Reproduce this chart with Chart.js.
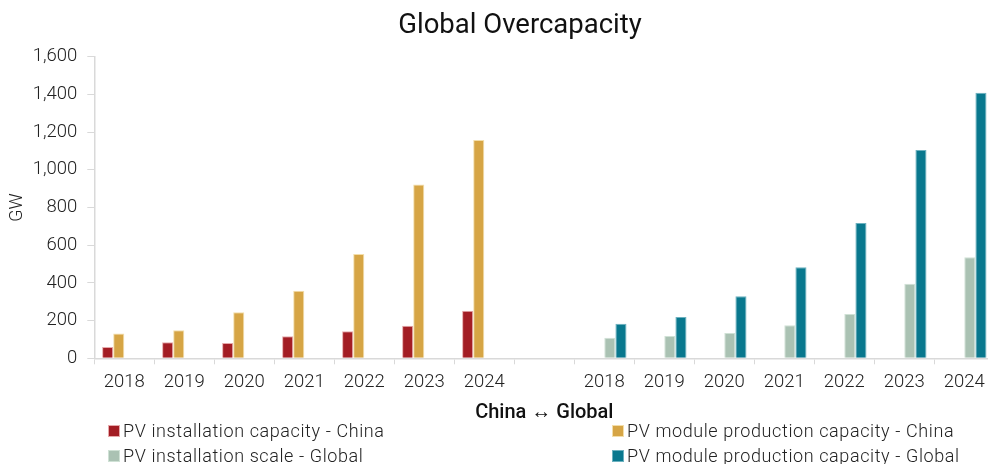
<!DOCTYPE html>
<html>
<head>
<meta charset="utf-8">
<script src="https://cdn.jsdelivr.net/npm/chart.js@4/dist/chart.umd.min.js"></script>
<style>
  html, body { margin: 0; padding: 0; background: #fff; overflow: hidden; }
  #wrap { position: relative; width: 1040px; height: 464px; }
  #chart { position: absolute; left: 0; top: 0; }
  .lg { position: absolute; display: flex; align-items: center; white-space: nowrap;
        font-family: Roboto, sans-serif; font-weight: 300; font-size: 18px; letter-spacing: 0.6px; color: #222; }
  .lg i { display: inline-block; width: 12px; height: 12px; margin-right: 3px; box-sizing: border-box; }
</style>
</head>
<body>
<div id="wrap">
  <canvas id="chart" width="1040" height="464"></canvas>
  <div id="legend"></div>
</div>
<script>
// Year categories: China block, spacer, Global block
const years = ['2018', '2019', '2020', '2021', '2022', '2023', '2024'];
const categories = [...years, '', ...years];

// GW values per year
const installChina = [60, 85, 81, 117, 143, 173, 253];
const moduleChina = [131, 149, 244, 359, 554, 922, 1158];
const installGlobal = [109, 118, 134, 175, 235, 396, 536];
const moduleGlobal = [184, 219, 329, 483, 718, 1106, 1409];

const yTicks = [0, 200, 400, 600, 800, 1000, 1200, 1400, 1600];

const gap = new Array(8).fill(null);
const chinaSide = (arr) => [...arr, ...gap];
const globalSide = (arr) => [...gap, ...arr];

const FONT = 'Roboto, sans-serif';

const datasets = [
  { label: 'PV installation capacity - China', data: chinaSide(installChina),
    backgroundColor: '#A31D24', borderColor: '#E6A9AB' },
  { label: 'PV module production capacity - China', data: chinaSide(moduleChina),
    backgroundColor: '#D6A545', borderColor: '#F3DEAA' },
  { label: 'PV installation scale - Global', data: globalSide(installGlobal),
    backgroundColor: '#AAC2B3', borderColor: '#CFE1D5' },
  { label: 'PV module production capacity - Global', data: globalSide(moduleGlobal),
    backgroundColor: '#09788E', borderColor: '#6CB1BF' }
].map(d => Object.assign(d, {
  borderWidth: 1,
  categoryPercentage: 0.74,
  barPercentage: 1
}));

const chart = new Chart(document.getElementById('chart'), {
  type: 'bar',
  data: { labels: categories, datasets },
  options: {
    responsive: false,
    animation: false,
    devicePixelRatio: 1,
    layout: { padding: { left: 0, right: 0, top: 0, bottom: 39.3 } },
    plugins: {
      legend: { display: false },
      tooltip: { enabled: false },
      title: {
        display: true,
        text: 'Global Overcapacity',
        color: '#111',
        font: { family: FONT, size: 27.5, weight: '400' },
        padding: { top: 10, bottom: 13.8 }
      }
    },
    scales: {
      x: {
        grid: { drawOnChartArea: false, drawTicks: true, tickLength: 6, color: '#d9d9d9', offset: true },
        border: { color: '#d9d9d9', width: 1.5 },
        ticks: { color: '#222', font: { family: FONT, size: 18.5, weight: '300' }, padding: 7, maxRotation: 0, autoSkip: false },
        title: {
          display: true,
          text: 'China \u2194 Global',
          color: '#111',
          font: { family: FONT, size: 20, weight: '500' },
          padding: { top: 0, bottom: 0 }
        },
        afterFit: (s) => { s.height = 66.4; }
      },
      y: {
        min: 0,
        max: 1600,
        afterBuildTicks: (s) => { s.ticks = yTicks.map(v => ({ value: v })); },
        grid: { drawOnChartArea: false, drawTicks: true, tickLength: 7, color: '#d9d9d9' },
        border: { color: '#d9d9d9', width: 1.5 },
        ticks: {
          color: '#222',
          font: { family: FONT, size: 18.5, weight: '300' },
          padding: 10,
          callback: (v) => v.toLocaleString('en-US')
        },
        title: {
          display: true,
          text: 'GW',
          color: '#222',
          font: { family: FONT, size: 18, weight: '300' },
          padding: { top: 7, bottom: 0 }
        },
        afterFit: (s) => { s.width = 94.3; }
      },
      // empty right-hand margin scale so the plot ends before the title's right edge
      yRight: {
        position: 'right',
        display: true,
        min: 0,
        max: 1600,
        grid: { display: false, drawTicks: false },
        border: { display: false },
        ticks: { display: false },
        afterFit: (s) => { s.width = 45.7; }
      }
    }
  }
});

// Two-column legend below the axis
const legendPos = [
  { left: 108, top: 420 },
  { left: 612, top: 420 },
  { left: 108, top: 445 },
  { left: 612, top: 445 }
];
const legendEl = document.getElementById('legend');
chart.data.datasets.forEach((ds, i) => {
  const item = document.createElement('div');
  item.className = 'lg';
  item.style.left = legendPos[i].left + 'px';
  item.style.top = legendPos[i].top + 'px';
  const sw = document.createElement('i');
  sw.style.background = ds.backgroundColor;
  sw.style.border = '1px solid ' + ds.borderColor;
  const tx = document.createElement('span');
  tx.textContent = ds.label;
  item.appendChild(sw);
  item.appendChild(tx);
  legendEl.appendChild(item);
});
</script>
</body>
</html>
